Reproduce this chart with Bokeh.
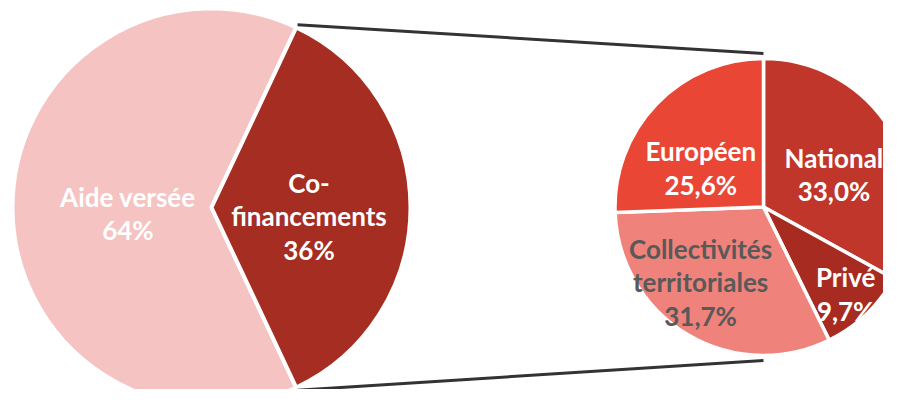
import math
from bokeh.plotting import figure
from bokeh.models import ColumnDataSource
from bokeh.core.properties import value
from bokeh.embed import file_html
from bokeh.resources import INLINE

# ---- data ----
main_labels = ["Aide versée", "Co-financements"]
main_values = [64, 36]
split_labels = ["National", "Privé", "Collectivités territoriales", "Européen"]
split_values = [33.0, 9.7, 31.7, 25.6]

# ---- styles / layout ----
main_colors = ["#F4C3C2", "#A52D21"]
main_text_colors = ["#FFFFFF", "#FFFFFF"]
split_colors = ["#C0362A", "#A72B20", "#EF827B", "#E94635"]
split_text_colors = ["#FFFFFF", "#FFFFFF", "#595959", "#FFFFFF"]

W, H = 883, 389
L_cx, L_cy, L_r = 211, 182, 199
R_cx, R_cy, R_r = 763, 182.5, 148.5

main_k = [0.42, 0.49]
main_nudge = [(0, -6), (0, -9)]
split_k = [0.52, 0.81, 0.67, 0.493]
split_nudge = [(4, -7), (-1, 0), (-12, 10), (-10, -12)]

FONT = "Lato"
FSIZE = "26px"
LINE_H = 1.05

p = figure(width=W, height=H, x_range=(0, W), y_range=(0, H),
           output_backend="svg", toolbar_location=None, min_border=0)
p.axis.visible = False
p.grid.visible = False
p.outline_line_color = None
p.background_fill_color = "white"


def wrap(name):
    if len(name) <= 12:
        return name
    if " " in name:
        a, b = name.split(" ", 1)
        return a + "\n" + b
    if "-" in name:
        a, b = name.split("-", 1)
        return a + "-\n" + b
    return name


# ---- left pie: Co-financements centered on the right ----
tot = sum(main_values)
co_span = main_values[1] / tot * 360.0
m_start = [co_span / 2, -co_span / 2]
m_end = [360 - co_span / 2, co_span / 2]
m_mid = [(s + e) / 2 for s, e in zip(m_start, m_end)]

src_l = ColumnDataSource(dict(
    start=[math.radians(a) for a in m_start],
    end=[math.radians(a) for a in m_end],
    color=main_colors,
))
p.wedge(x=L_cx, y=L_cy, radius=L_r, start_angle="start", end_angle="end",
        fill_color="color", line_color="white", line_width=4, source=src_l)

lx, ly, lt = [], [], []
for i, (lab, v) in enumerate(zip(main_labels, main_values)):
    a = math.radians(m_mid[i])
    lx.append(L_cx + main_k[i] * L_r * math.cos(a) + main_nudge[i][0])
    ly.append(L_cy + main_k[i] * L_r * math.sin(a) + main_nudge[i][1])
    lt.append(wrap(lab) + "\n" + f"{v:.0f}%")
p.text(x=lx, y=ly, text=lt, text_color=main_text_colors, text_align="center",
       text_baseline="middle", text_font=value(FONT), text_font_style="bold",
       text_font_size=FSIZE, text_line_height=LINE_H)

# ---- right pie: clockwise from top ----
stot = sum(split_values)
s_start, s_end = [], []
cum = 90.0
for v in split_values:
    span = v / stot * 360.0
    s_end.append(cum)
    s_start.append(cum - span)
    cum -= span
s_mid = [(s + e) / 2 for s, e in zip(s_start, s_end)]

src_r = ColumnDataSource(dict(
    start=[math.radians(a) for a in s_start],
    end=[math.radians(a) for a in s_end],
    color=split_colors,
))
p.wedge(x=R_cx, y=R_cy, radius=R_r, start_angle="start", end_angle="end",
        fill_color="color", line_color="white", line_width=3.5, source=src_r)

rx, ry, rt = [], [], []
for i, (lab, v) in enumerate(zip(split_labels, split_values)):
    a = math.radians(s_mid[i])
    rx.append(R_cx + split_k[i] * R_r * math.cos(a) + split_nudge[i][0])
    ry.append(R_cy + split_k[i] * R_r * math.sin(a) + split_nudge[i][1])
    rt.append(wrap(lab) + "\n" + f"{v:.1f}".replace(".", ",") + "%")
p.text(x=rx, y=ry, text=rt, text_color=split_text_colors, text_align="center",
       text_baseline="middle", text_font=value(FONT), text_font_style="bold",
       text_font_size=FSIZE, text_line_height=LINE_H)

# ---- connector lines ----
gap = 3
for sgn in (1, -1):
    a = math.radians(sgn * co_span / 2)
    x0 = L_cx + (L_r + gap) * math.cos(a)
    y0 = L_cy + (L_r + gap) * math.sin(a)
    x1 = R_cx
    y1 = R_cy + sgn * (R_r + 5)
    p.line(x=[x0, x1], y=[y0, y1], line_color="#333333", line_width=3)

open("out.html", "w").write(file_html(p, INLINE))
